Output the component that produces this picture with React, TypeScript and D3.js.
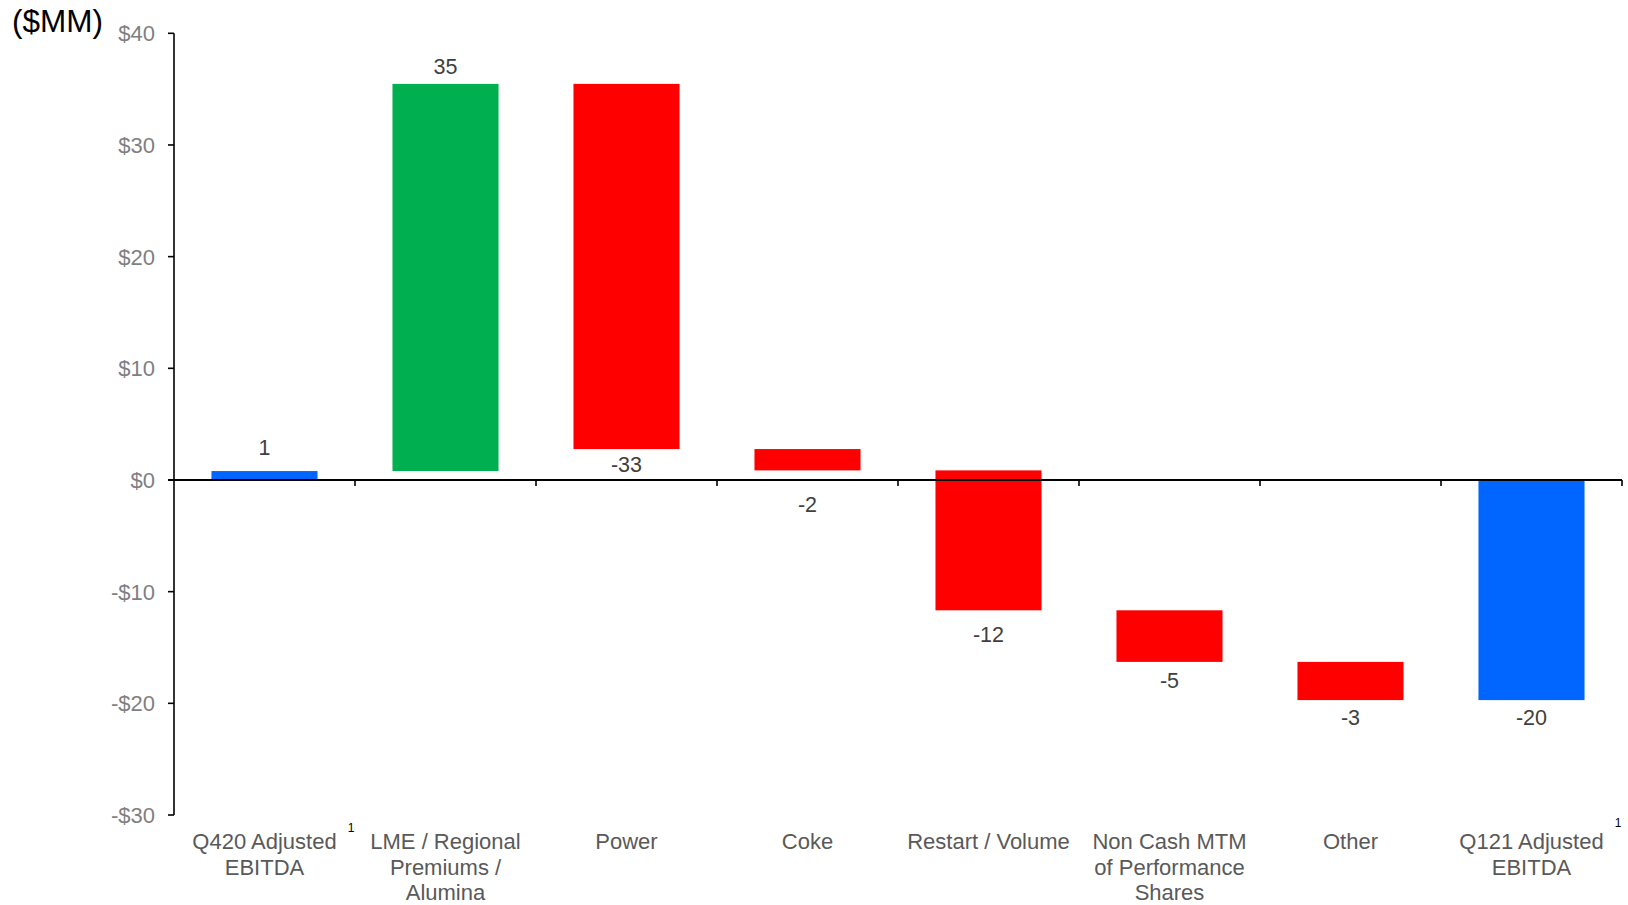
import React from "react";
import * as d3 from "d3";

// ---- data ----
const categories = [
  "Q420 Adjusted EBITDA",
  "LME / Regional Premiums / Alumina",
  "Power",
  "Coke",
  "Restart / Volume",
  "Non Cash MTM of Performance Shares",
  "Other",
  "Q121 Adjusted EBITDA",
];
const categoryLines = [
  ["Q420 Adjusted", "EBITDA"],
  ["LME / Regional", "Premiums /", "Alumina"],
  ["Power"],
  ["Coke"],
  ["Restart / Volume"],
  ["Non Cash MTM", "of Performance", "Shares"],
  ["Other"],
  ["Q121 Adjusted", "EBITDA"],
];
// kind: total bars start at zero, step bars float
const kinds = ["total", "step", "step", "step", "step", "step", "step", "total"];
const deltas = [0.8, 34.67, -32.7, -1.91, -12.53, -4.62, -3.42, -19.71];
const valueLabels = ["1", "35", "-33", "-2", "-12", "-5", "-3", "-20"];
const footnoted = [true, false, false, false, false, false, false, true];
const yTicks = [-30, -20, -10, 0, 10, 20, 30, 40];

// ---- layout / style ----
const W = 1628;
const H = 905;
const LEFT = 174;
const RIGHT = 1622;
const TOP = 33.3;
const BOTTOM = 815;
const BAR_FRAC = 0.586;
const LABEL_GAP = [16, 10, 23, 42, 32, 26, 25, 25];
const FONT = "'Liberation Sans', Arial, Helvetica, sans-serif";
const COLORS = { total: "#0066FF", up: "#00B050", down: "#FF0000" };

export default function App() {
  const x = d3.scaleBand<string>().domain(categories).range([LEFT, RIGHT]).padding(0);
  const y = d3.scaleLinear().domain([-30, 40]).range([BOTTOM, TOP]);
  const step = x.step();
  const bw = step * BAR_FRAC;

  let running = 0;
  const bars = categories.map((c, i) => {
    let start: number, end: number;
    if (kinds[i] === "total") {
      start = 0;
      end = deltas[i];
      running = end;
    } else {
      start = running;
      end = running + deltas[i];
      running = end;
    }
    const lo = Math.min(start, end);
    const hi = Math.max(start, end);
    const color =
      kinds[i] === "total" ? COLORS.total : deltas[i] >= 0 ? COLORS.up : COLORS.down;
    const positive = deltas[i] >= 0;
    return { c, i, lo, hi, color, positive };
  });

  const zeroY = y(0);

  return (
    <svg
      width={W}
      height={H}
      style={{ position: "absolute", left: 0, top: 0, background: "#fff" }}
      fontFamily={FONT}
    >
      <rect x={0} y={0} width={W} height={H} fill="#fff" />
      <text x={12} y={32} fontSize={31.5} fill="#000">
        ($MM)
      </text>

      {/* bars */}
      {bars.map((b) => (
        <rect
          key={b.c}
          x={(x(b.c) as number) + (step - bw) / 2}
          y={y(b.hi)}
          width={bw}
          height={y(b.lo) - y(b.hi)}
          fill={b.color}
        />
      ))}

      {/* y axis */}
      <line x1={LEFT} x2={LEFT} y1={y(40)} y2={y(-30)} stroke="#000" strokeWidth={1.6} />
      {yTicks.map((t) => (
        <g key={t}>
          <line x1={LEFT - 6} x2={LEFT} y1={y(t)} y2={y(t)} stroke="#000" strokeWidth={1.6} />
          <text
            x={155}
            y={y(t)}
            dy="0.36em"
            textAnchor="end"
            fontSize={22}
            fill="#7F7F7F"
          >
            {t < 0 ? `-$${Math.abs(t)}` : `$${t}`}
          </text>
        </g>
      ))}

      {/* x axis at zero */}
      <line x1={LEFT - 6} x2={RIGHT} y1={zeroY} y2={zeroY} stroke="#000" strokeWidth={2} />
      {categories.map((c) => {
        const bx = (x(c) as number) + step;
        return (
          <line key={c} x1={bx} x2={bx} y1={zeroY} y2={zeroY + 6} stroke="#000" strokeWidth={1.6} />
        );
      })}

      {/* value labels */}
      {bars.map((b) => {
        const cx = (x(b.c) as number) + step / 2;
        const ly = b.positive ? y(b.hi) - LABEL_GAP[b.i] : y(b.lo) + LABEL_GAP[b.i];
        return (
          <text key={b.c} x={cx} y={ly} textAnchor="middle" fontSize={21.5} fill="#404040">
            {valueLabels[b.i]}
          </text>
        );
      })}

      {/* category labels */}
      {categories.map((c, i) => {
        const cx = (x(c) as number) + step / 2;
        return (
          <g key={c}>
            <text textAnchor="middle" fontSize={22} fill="#595959">
              {categoryLines[i].map((ln, k) => (
                <tspan key={k} x={cx} y={849 + k * 25.5}>
                  {ln}
                </tspan>
              ))}
            </text>
            {footnoted[i] && (
              <text
                x={(x(c) as number) + step - 4}
                y={i === 0 ? 832 : 827}
                textAnchor="middle"
                fontSize={12}
                fill="#000"
              >
                1
              </text>
            )}
          </g>
        );
      })}
    </svg>
  );
}
